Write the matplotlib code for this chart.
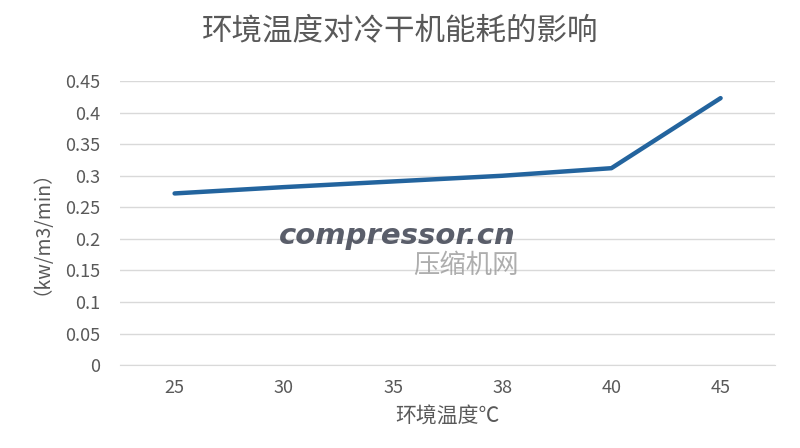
import matplotlib
matplotlib.use('Agg')
import matplotlib.pyplot as plt

plt.rcParams['font.family'] = ['Noto Sans CJK SC', 'DejaVu Sans']

# data
temps = ['25', '30', '35', '38', '40', '45']
energy = [0.272, 0.282, 0.291, 0.300, 0.312, 0.423]

TXT = '#595959'
GRID = '#d9d9d9'

fig = plt.figure(figsize=(8, 4.48), dpi=100)
ax = fig.add_axes([0.15, 0.185, 0.819, 0.634])

x = range(len(temps))
ax.plot(x, energy, color='#23649e', lw=3.2, solid_capstyle='round', zorder=3)

ax.set_xlim(-0.5, len(temps) - 0.5)
ax.set_ylim(0, 0.45)
ax.set_yticks([i * 0.05 for i in range(10)])
ax.set_yticklabels(['0', '0.05', '0.1', '0.15', '0.2', '0.25', '0.3', '0.35', '0.4', '0.45'])
ax.set_xticks(list(x))
ax.set_xticklabels(temps)
ax.grid(axis='y', color=GRID, lw=1)
ax.set_axisbelow(True)
for s in ['top', 'right', 'left']:
    ax.spines[s].set_visible(False)
ax.spines['bottom'].set_color(GRID)
ax.tick_params(axis='both', length=0, labelsize=13, colors=TXT)
ax.tick_params(axis='y', pad=14)
ax.tick_params(axis='x', pad=10)

ax.set_xlabel('环境温度℃', fontsize=15, color=TXT, labelpad=6)
ax.set_ylabel('（kw/m3/min）', fontsize=14, color=TXT)
ax.yaxis.set_label_coords(-0.118, 0.5)
fig.suptitle('环境温度对冷干机能耗的影响', fontsize=22, color=TXT, y=0.965)

# watermark
fig.text(0.497, 0.474, 'compressor.cn', fontsize=21, fontweight='bold', style='italic',
         color='#3d4250', alpha=0.85, ha='center', va='center', family='DejaVu Sans')
fig.text(0.583, 0.408, '压缩机网', fontsize=19, color='#9a9a9a', alpha=0.8,
         ha='center', va='center')

fig.savefig('out.png', dpi=100)
